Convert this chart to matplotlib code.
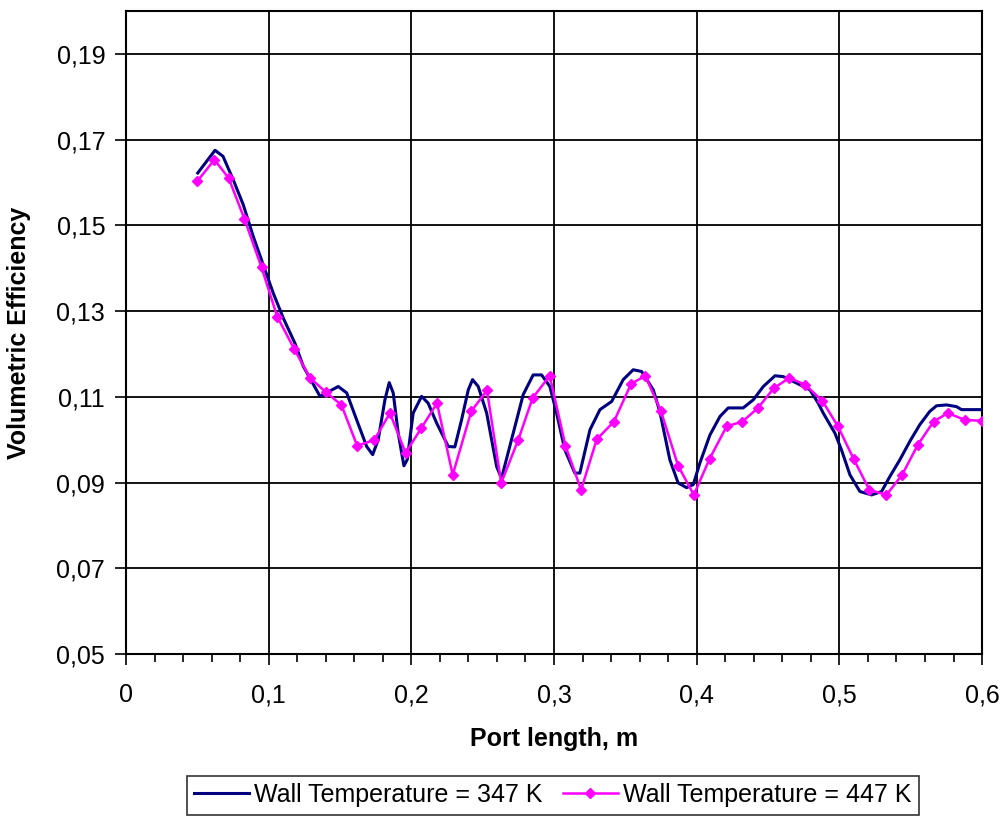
import matplotlib
matplotlib.use("Agg")
import matplotlib.pyplot as plt
from matplotlib.ticker import MultipleLocator, FuncFormatter

plt.rcParams['font.family'] = ['Liberation Sans', 'DejaVu Sans']

# Wall Temperature = 347 K (smooth curve)
x347 = [0.0503, 0.0624, 0.068, 0.0752, 0.0822, 0.0892, 0.0962, 0.1032, 0.1102, 0.1184,
        0.1243, 0.136, 0.1488, 0.1547, 0.1617, 0.1687, 0.1729, 0.1768, 0.1815, 0.1845,
        0.1873, 0.1908, 0.1948, 0.1971, 0.2013, 0.2072, 0.2118, 0.2177, 0.2259, 0.2305,
        0.2352, 0.2399, 0.2429, 0.2469, 0.2528, 0.2598, 0.2632, 0.2714, 0.2784, 0.2854,
        0.2913, 0.2971, 0.3018, 0.3076, 0.3146, 0.3181, 0.3252, 0.3322, 0.3404, 0.3485,
        0.3555, 0.3614, 0.3696, 0.3742, 0.3812, 0.387, 0.3929, 0.3976, 0.4022, 0.4093,
        0.4163, 0.4221, 0.4326, 0.4397, 0.4467, 0.4549, 0.4607, 0.47, 0.4794, 0.4852,
        0.4887, 0.4969, 0.5015, 0.5074, 0.5144, 0.5226, 0.5296, 0.5354, 0.5424, 0.5494,
        0.5564, 0.5634, 0.5681, 0.5751, 0.5821, 0.5856, 0.5997]
y347 = [0.1622, 0.1675, 0.1661, 0.1606, 0.1548, 0.1474, 0.1408, 0.1342, 0.1284, 0.1225,
        0.1171, 0.1101, 0.1124, 0.1109, 0.1046, 0.0984, 0.0965, 0.1000, 0.1093, 0.1133,
        0.1109, 0.1015, 0.0939, 0.0953, 0.1062, 0.1101, 0.1085, 0.1039, 0.0984, 0.0983,
        0.1046, 0.1116, 0.1140, 0.1124, 0.1062, 0.0937, 0.0910, 0.1015, 0.1105, 0.1151,
        0.1151, 0.1124, 0.1062, 0.0976, 0.0922, 0.0922, 0.1023, 0.1070, 0.1089, 0.1140,
        0.1163, 0.1159, 0.1116, 0.1065, 0.0953, 0.0899, 0.0888, 0.0895, 0.0945, 0.1011,
        0.1054, 0.1074, 0.1074, 0.1093, 0.1124, 0.1149, 0.1147, 0.1132, 0.1116, 0.1085,
        0.1062, 0.1015, 0.0976, 0.0918, 0.0879, 0.0871, 0.0879, 0.0914, 0.0953, 0.0996,
        0.1035, 0.1066, 0.1079, 0.1081, 0.1077, 0.1070, 0.1070]

# Wall Temperature = 447 K (with diamond markers)
x447 = [0.050, 0.062, 0.072, 0.083, 0.095, 0.106, 0.118, 0.129, 0.140, 0.151,
        0.162, 0.174, 0.185, 0.196, 0.207, 0.218, 0.229, 0.242, 0.253, 0.263,
        0.275, 0.285, 0.297, 0.308, 0.319, 0.330, 0.342, 0.354, 0.364, 0.375,
        0.387, 0.398, 0.409, 0.421, 0.432, 0.443, 0.454, 0.465, 0.476, 0.488,
        0.499, 0.510, 0.521, 0.533, 0.544, 0.555, 0.566, 0.576, 0.588, 0.600]
y447 = [0.1603, 0.1653, 0.1610, 0.1515, 0.1402, 0.1287, 0.1211, 0.1144, 0.1111, 0.1081,
        0.0986, 0.0999, 0.1062, 0.0969, 0.1027, 0.1085, 0.0918, 0.1066, 0.1115, 0.0899,
        0.1000, 0.1097, 0.1149, 0.0986, 0.0883, 0.1001, 0.1042, 0.1130, 0.1149, 0.1066,
        0.0939, 0.0871, 0.0955, 0.1031, 0.1042, 0.1074, 0.1120, 0.1144, 0.1128, 0.1091,
        0.1031, 0.0955, 0.0883, 0.0871, 0.0918, 0.0988, 0.1042, 0.1062, 0.1046, 0.1044]

label347 = "Wall Temperature = 347 K"
label447 = "Wall Temperature = 447 K"

fig = plt.figure(figsize=(10.03, 8.19), dpi=100)
ax = fig.add_axes([0.1256, 0.2015, 0.8535, 0.7851])

ax.plot(x347, y347, color='#000080', lw=2.2, label=label347, zorder=3,
        solid_joinstyle='round')
ax.plot(x447, y447, color='#FF00FF', lw=1.8, marker='D', markersize=5.5,
        markeredgecolor='#FF00FF', label=label447, zorder=4)

ax.set_xlim(0, 0.6)
ax.set_ylim(0.05, 0.2)
ax.xaxis.set_major_locator(MultipleLocator(0.1))
ax.xaxis.set_minor_locator(MultipleLocator(0.02))
ax.set_yticks([0.05, 0.07, 0.09, 0.11, 0.13, 0.15, 0.17, 0.19])

def fmt(v, pos):
    s = ('%.2f' % v).rstrip('0').rstrip('.') if abs(v) > 1e-9 else '0'
    return s.replace('.', ',')
ax.xaxis.set_major_formatter(FuncFormatter(fmt))
ax.yaxis.set_major_formatter(FuncFormatter(lambda v, p: ('%.2f' % v).replace('.', ',')))

ax.grid(True, which='major', color='black', lw=1.3)
ax.set_axisbelow(True)
for s in ax.spines.values():
    s.set_color('black')
    s.set_linewidth(1.5)

ax.tick_params(axis='both', which='major', direction='out', length=8, width=1.2,
               labelsize=18, colors='black', pad=7)
ax.tick_params(axis='x', which='minor', direction='out', length=6, width=1.2)
ax.tick_params(axis='x', which='major', pad=13)

ax.set_xlabel("Port length, m", fontsize=18, fontweight='bold', labelpad=14)
ax.set_ylabel("Volumetric Efficiency", fontsize=18, fontweight='bold', labelpad=18)

leg = fig.legend(loc='upper center', bbox_to_anchor=(0.551, 0.053), ncol=2,
                 fontsize=18, frameon=True, fancybox=False, handlelength=2.2,
                 handletextpad=0.2, columnspacing=0.8, borderpad=0.3,
                 borderaxespad=0)
leg.get_frame().set_edgecolor('black')
leg.get_frame().set_linewidth(1.2)

fig.savefig("out.png", dpi=100)
